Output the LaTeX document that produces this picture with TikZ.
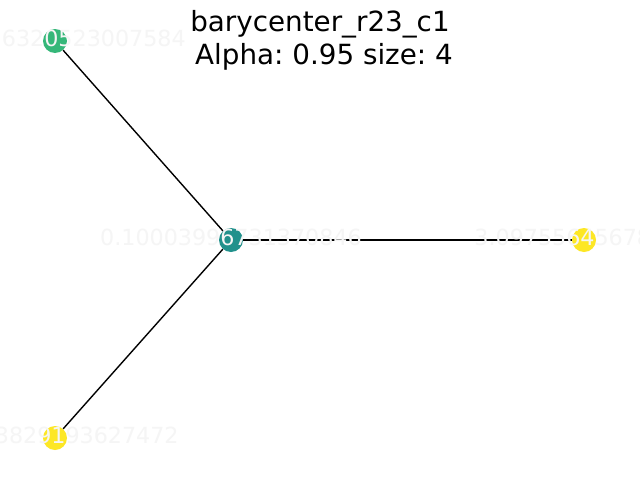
\documentclass[tikz,border=0pt]{standalone}
\usepackage{fontspec}
\setmainfont{DejaVu Sans}
\definecolor{vgreen}{HTML}{35B779}
\definecolor{vteal}{HTML}{21918C}
\definecolor{vyellow}{HTML}{FDE725}
\definecolor{wsmoke}{HTML}{F5F5F5}
\begin{document}
\frenchspacing
\begin{tikzpicture}[x=0.72pt,y=-0.72pt,
  gnode/.style={circle,inner sep=0pt,minimum size=17.28pt,draw=none},
  glabel/.style={text=wsmoke,anchor=base,inner sep=0pt,font=\fontsize{16}{19}\selectfont},
  gtitle/.style={anchor=base,inner sep=0pt,font=\fontsize{20}{24}\selectfont},
  gedge/.style={draw=black,line width=1pt}]
\useasboundingbox (0,0) rectangle (640,480);
\fill[white] (0,0) rectangle (640,480);
\node[gnode,fill=vgreen] (tl) at (55,41) {};
\node[gnode,fill=vteal] (c) at (231,240) {};
\node[gnode,fill=vyellow] (r) at (584,240) {};
\node[gnode,fill=vyellow] (bl) at (55,438) {};
\path[gedge] (c) -- (tl);
\path[gedge] (c) -- (r);
\path[gedge] (c) -- (bl);
\node[glabel] (ltl) at (55,46.7) {0.40716320523007584};
\node[glabel] (lc) at (231,245.7) {0.10003996731370846};
\node[glabel] (lr) at (584,245.7) {3.09755645678123};
\node[glabel] (lbl) at (55,443.7) {0.5173829193627472};
\node[gtitle] (t1) at (320,31.7) {barycenter\_r23\_c1};
\node[gtitle] (t2) at (324,64) {Alpha: 0.95 size: 4};
\end{tikzpicture}
\end{document}
